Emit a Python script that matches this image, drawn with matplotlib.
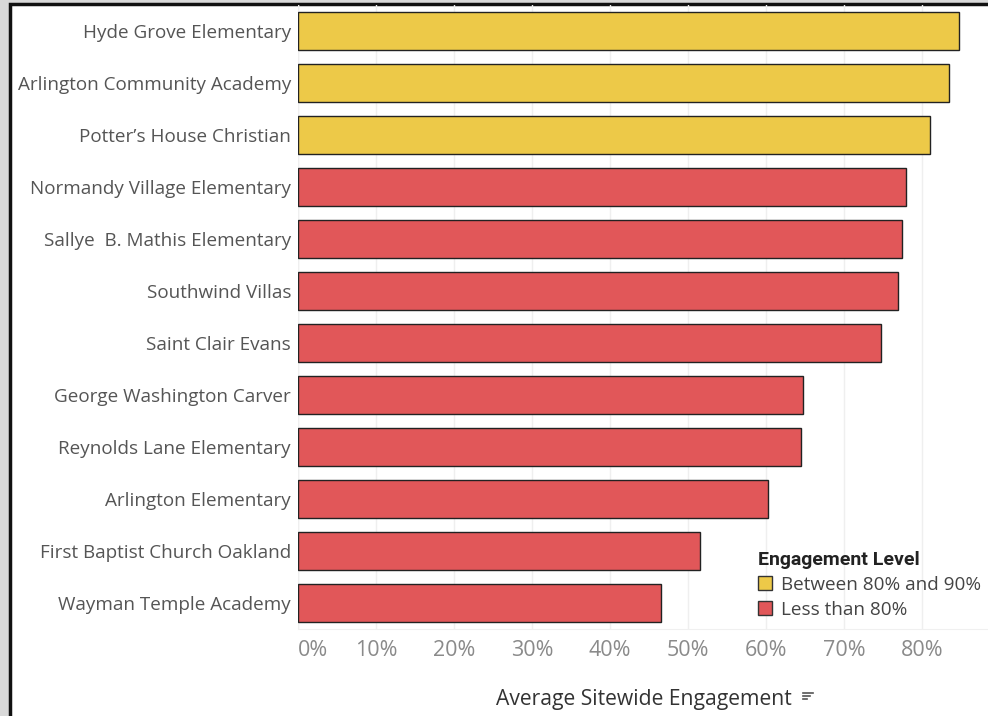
import matplotlib
matplotlib.use("Agg")
import matplotlib.pyplot as plt
from matplotlib.patches import Rectangle, Patch
from matplotlib.lines import Line2D
from matplotlib.ticker import FuncFormatter

schools = [
    "Hyde Grove Elementary",
    "Arlington Community Academy",
    "Potter\u2019s House Christian",
    "Normandy Village Elementary",
    "Sallye  B. Mathis Elementary",
    "Southwind Villas",
    "Saint Clair Evans",
    "George Washington Carver",
    "Reynolds Lane Elementary",
    "Arlington Elementary",
    "First Baptist Church Oakland",
    "Wayman Temple Academy",
]
engagement = [0.848, 0.835, 0.810, 0.780, 0.774, 0.769, 0.748,
              0.647, 0.645, 0.603, 0.515, 0.466]
levels = ["Between 80% and 90%"] * 3 + ["Less than 80%"] * 9
level_colors = {"Between 80% and 90%": "#EDC948", "Less than 80%": "#E15759"}
ticks = [0, 0.1, 0.2, 0.3, 0.4, 0.5, 0.6, 0.7, 0.8]

FONT = ["Open Sans", "DejaVu Sans"]
W, H = 988, 716
fig = plt.figure(figsize=(W / 100, H / 100), dpi=100)
fig.patch.set_facecolor("#d9d9d9")
# white panel with black frame
fig.patches.append(Rectangle((10 / W, -0.1), 1.0, 1.1 - 4 / H, transform=fig.transFigure,
                             facecolor="white", edgecolor="#111111", linewidth=2.5, zorder=-10))

ax = fig.add_axes([298 / W, 1 - 629 / H, 1 - 298 / W, (629 - 5) / H])
ax.patch.set_visible(False)
y = list(range(len(schools)))
ax.barh(y, engagement, height=0.73,
        color=[level_colors[l] for l in levels], edgecolor="#222222", linewidth=1.0, zorder=3)
ax.set_ylim(len(schools) - 0.5, -0.5)
ax.set_xlim(0, (W - 298) / 780)
ax.set_yticks(y)
ax.set_yticklabels(schools, fontsize=13.6, color="#555555", family=FONT)
ax.set_xticks(ticks)
ax.xaxis.set_major_formatter(FuncFormatter(lambda v, p: f"{v * 100:.0f}%"))
for lbl in ax.get_xticklabels():
    lbl.set_family(FONT)
ax.tick_params(axis="x", labelsize=15.5, colors="#8a8a8a", length=0, pad=8)
ax.tick_params(axis="y", length=0, pad=5)
ax.get_xticklabels()[0].set_horizontalalignment("left")
ax.grid(axis="x", color="#efefef", linewidth=1, zorder=0)
for s in ["top", "right", "left"]:
    ax.spines[s].set_visible(False)
ax.spines["bottom"].set_color("#f0f0f0")
ax.axvline(0, color="#eeeeee", linewidth=1, zorder=1)

ax.set_xlabel("Average Sitewide Engagement", fontsize=15.2, color="#333333",
              family=FONT)
ax.xaxis.set_label_coords((644 - 298) / (W - 298), -(689 - 629) / (629 - 5))

# sort icon next to the axis title
for i, (x0, x1) in enumerate([(803, 813), (803, 810), (803, 807)]):
    yy = 1 - (693 + i * 3) / H
    fig.add_artist(Line2D([x0 / W, x1 / W], [yy, yy], color="#555555", linewidth=1.2))

handles = [Patch(facecolor=level_colors[k], edgecolor="#333333", linewidth=1.0, label=k)
           for k in level_colors]
leg = fig.legend(handles=handles, title="Engagement Level", loc="upper left",
                 bbox_to_anchor=(750 / W, 1 - 543 / H), frameon=False,
                 prop={"family": FONT, "size": 13.6}, handlelength=0.75, handleheight=0.75,
                 handletextpad=0.5, labelspacing=0.38, borderaxespad=0,
                 title_fontproperties={"family": ["Roboto", "DejaVu Sans"], "size": 14,
                                       "weight": "bold"})
leg.get_title().set_color("#222222")
leg._legend_box.align = "left"
for t in leg.get_texts():
    t.set_color("#444444")

fig.savefig("out.png", dpi=100, facecolor=fig.get_facecolor())
